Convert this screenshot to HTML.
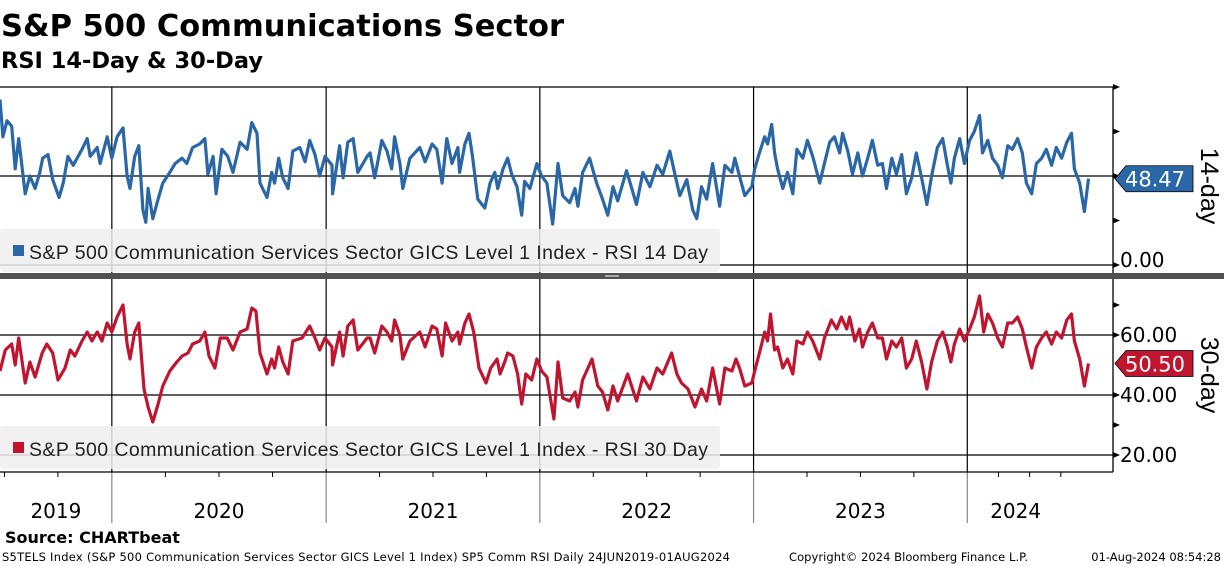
<!DOCTYPE html>
<html><head><meta charset="utf-8"><style>
html,body{margin:0;padding:0;background:#fff;width:1224px;height:566px;overflow:hidden}
svg{display:block;font-family:"Liberation Sans",sans-serif}
</style></head><body>
<svg id="chart" width="1224" height="566" viewBox="0 0 1224 566" xmlns="http://www.w3.org/2000/svg">
<text x="1" y="36" font-size="30.5" font-weight="bold" font-family="DejaVu Sans, sans-serif">S&amp;P 500 Communications Sector</text>
<text x="1" y="68" font-size="22.5" font-weight="bold" font-family="DejaVu Sans, sans-serif">RSI 14-Day &amp; 30-Day</text>
<g id="grid"></g>
<g id="series"></g>
<g id="overlay"></g>
<text x="5" y="543" font-size="16" font-weight="bold" font-family="DejaVu Sans, sans-serif">Source: CHARTbeat</text>
<text x="2" y="561" font-size="11.5" font-family="DejaVu Sans, sans-serif" textLength="728">S5TELS Index (S&amp;P 500 Communication Services Sector GICS Level 1 Index) SP5 Comm RSI  Daily 24JUN2019-01AUG2024</text>
<text x="789" y="561" font-size="11.5" font-family="DejaVu Sans, sans-serif" textLength="239">Copyright© 2024 Bloomberg Finance L.P.</text>
<text x="1221" y="561" font-size="11.5" text-anchor="end" font-family="DejaVu Sans, sans-serif">01-Aug-2024 08:54:28</text>
</svg>
<script>
// days since 2019-06-24
const rsi14Days=[0,5,12,20,26,32,43,51,60,68,73,82,90,101,108,116,125,140,149,154,166,171,183,191,200,210,217,222,230,237,244,249,253,261,270,278,290,299,311,319,329,341,350,355,364,369,379,389,398,410,422,430,439,444,456,464,469,476,483,492,500,512,521,529,538,546,555,567,568,580,586,594,603,611,627,
632,640,652,661,669,674,683,688,700,717,726,738,746,755,763,772,782,785,794,801,807,816,828,837,845,850,859,867,874,883,891,896,905,917,925,934,944,953,961,973,982,987,995,1007,1019,1029,1038,1047,1055,1070,1087,1098,1110,1122,1132,1144,1152,1161,1173,1183,1190,1198,1207,1217,1229,1238,1250,1255,
1263,1272,1284,1289,1297,1306,1311,1318,1323,1328,1337,1345,1354,1361,1371,1379,1388,1400,1408,1417,1425,1434,1439,1448,1456,1465,1473,1482,1490,1499,1507,1514,1523,1531,1540,1548,1557,1565,1574,1583,1591,1601,1610,1618,1624,1630,1639,1647,1656,1664,1673,1678,1687,1695,1704,1712,1721,1729,1738,1746,1753,1762,1770,1779,1787,1796,1804,1813,1822,1830,1835,1844,1852,1859];
const rsi14Values=[93,72,81,78,54,71,40,50,43,52,60,62,48,38,46,61,56,65,71,61,66,57,72,60,72,77,50,43,61,67,31,24,43,26,37,46,52,57,60,57,66,68,71,51,61,40,65,61,52,69,65,80,74,46,38,52,46,60,49,43,64,66,58,70,62,50,61,56,40,67,49,69,71,52,61,
63,49,70,64,54,72,57,43,60,66,58,68,65,46,71,57,66,52,68,74,61,37,32,46,52,43,54,60,51,44,28,47,43,57,50,46,23,57,39,35,43,33,52,60,46,37,28,44,36,53,34,52,44,56,51,64,52,39,48,31,26,44,37,57,33,56,52,60,
50,39,44,54,63,72,68,79,63,54,43,52,40,65,60,70,61,46,57,69,72,63,74,64,51,63,50,60,70,56,57,43,60,51,62,40,49,63,49,34,50,66,71,56,46,60,71,57,70,75,84,63,70,60,56,49,67,65,71,63,46,40,57,60,65,56,66,60,69,74,54,46,30,48.47];
const rsi30Days=[0,9,20,26,32,43,51,60,72,80,90,99,111,120,128,140,149,157,166,174,183,191,200,210,217,222,230,237,246,253,261,270,278,290,302,311,321,329,341,350,357,367,376,388,398,410,422,430,437,444,456,464,469,476,483,492,500,516,529,538,546,555,567,568,580,586,594,603,611,627,
632,640,652,661,669,674,683,688,700,717,726,738,746,755,761,772,782,785,794,801,809,818,830,838,849,854,862,867,876,884,891,898,908,917,925,934,946,953,961,973,982,987,995,1011,1021,1029,1038,1047,1055,1072,1087,1098,1110,1122,1132,1147,1156,1164,1175,1187,1198,1207,1217,1229,1238,1250,1257,
1263,1272,1284,1289,1297,1306,1311,1316,1323,1328,1337,1345,1354,1361,1371,1379,1388,1400,1408,1420,1429,1437,1446,1451,1460,1468,1473,1482,1490,1499,1507,1514,1523,1531,1540,1548,1557,1565,1574,1583,1591,1601,1610,1618,1624,1630,1639,1647,1656,1664,1673,1680,1687,1695,1704,1712,1721,1729,1738,1746,1753,1762,1770,1779,1787,1796,1804,1813,1822,1830,1835,1844,1852,1859];
const rsi30Values=[48,55,57,50,59,44,51,46,54,57,54,45,49,55,53,58,61,58,61,58,64,61,66,70,57,52,61,64,42,36,31,37,43,48,51,53,54,57,58,61,53,49,59,59,55,61,62,69,68,54,47,52,49,56,51,47,58,59,63,59,55,59,56,50,61,53,63,65,55,59,
59,54,63,61,58,65,60,52,58,61,56,63,62,53,64,58,61,57,64,67,61,49,44,49,52,47,51,54,53,47,37,47,45,52,48,46,32,51,39,38,41,36,45,52,43,41,35,43,38,47,38,46,42,49,47,54,47,44,42,36,42,38,49,37,49,48,52,
49,43,44,48,54,61,58,67,55,56,49,52,47,58,57,61,58,52,59,65,62,66,62,66,58,62,56,61,64,59,59,52,58,56,59,49,52,58,51,42,51,58,61,56,51,57,62,58,62,66,73,61,67,64,59,56,64,64,66,62,56,49,56,59,61,57,61,59,65,67,58,52,43,50.5];
const yearLabels=["2019","2020","2021","2022","2023","2024"];
const yearStartDays=[0,191,557,922,1287,1652,1865];
const topTicks=[100,75,50,25,0];
const bottomTicks=[70,60,40,30,20];
const topLabels=["0.00"];
const bottomLabels=["60.00","40.00","20.00"];

const NS="http://www.w3.org/2000/svg";
const X0=0,X1=1092,DAYMAX=1865,AX=1113;
const xS=d=>X0+d/DAYMAX*(X1-X0);
const yTop=v=>265-v*1.78;
const yBot=v=>335-(v-60)*3;
function mk(tag,attrs,parent){const e=document.createElementNS(NS,tag);for(const k in attrs)e.setAttribute(k,attrs[k]);parent.appendChild(e);return e;}
const grid=document.getElementById('grid'),ser=document.getElementById('series'),ov=document.getElementById('overlay');

[[yTop(100)],[yTop(50)],[yTop(0)],[yBot(60)],[yBot(40)],[yBot(20)]].forEach(a=>{
 const l=mk('line',{x1:0,x2:AX,y1:a[0],y2:a[0],stroke:'#000','stroke-width':1.3},grid);
 
 
});
yearStartDays.slice(1,6).forEach(d=>{
 const x=xS(d);
 const l=mk('line',{x1:x,x2:x,y1:87,y2:472,stroke:'#000','stroke-width':1.2},grid);
 
 
 const l2=mk('line',{x1:x,x2:x,y1:472,y2:523,stroke:'#888','stroke-width':1.2},grid);
 
 
});
const xa=mk('line',{x1:0,x2:AX,y1:472,y2:472,stroke:'#000','stroke-width':1.3},grid);


for(let i=0;i<6;i++){
 const a=yearStartDays[i],b=yearStartDays[i+1];
 const yrStart=i===0?-175:a;
 for(let q=1;q<4;q++){const d=yrStart+q*(i===0?91.3:(b-a)/4);if(d>0&&d<b){const x=xS(d);
  const t=mk('line',{x1:x,x2:x,y1:472,y2:477,stroke:'#000','stroke-width':1},grid);
  
  }}
 const lbl=mk('text',{x:(xS(a)+xS(Math.min(b,DAYMAX)))/2,y:518,'font-size':20,'text-anchor':'middle','font-family':'DejaVu Sans, sans-serif'},grid);
 if(i===5){lbl.setAttribute('x',xS(a)+(xS(1865)-xS(a))/2-14);}
 lbl.textContent=yearLabels[i];
 
 
}
const ra=mk('line',{x1:AX,x2:AX,y1:87,y2:472,stroke:'#000','stroke-width':1.3},grid);


topTicks.forEach(v=>{const y=yTop(v);
 const t=mk('path',{d:`M${AX} ${y-3}L${AX+7} ${y}L${AX} ${y+3}Z`,fill:'#000'},grid);
 
 });
bottomTicks.forEach(v=>{const y=yBot(v);
 const t=mk('path',{d:`M${AX} ${y-3}L${AX+7} ${y}L${AX} ${y+3}Z`,fill:'#000'},grid);
 
 });
topLabels.forEach(s=>{const t=mk('text',{x:1120,y:yTop(0)+2,'font-size':20,'font-family':'DejaVu Sans, sans-serif'},grid);t.textContent=s;
 
 });
bottomLabels.forEach(s=>{const t=mk('text',{x:1120,y:yBot(parseFloat(s))+7,'font-size':20,'font-family':'DejaVu Sans, sans-serif'},grid);t.textContent=s;
 
 });

function line(days,vals,yf,color,name){
 const d=days.map((dd,i)=>(i?'L':'M')+xS(dd).toFixed(1)+' '+yf(vals[i]).toFixed(1)).join('');
 const p=mk('path',{d:d,fill:'none',stroke:color,'stroke-width':3.2,'stroke-linejoin':'round'},ser);
 
 
}
line(rsi14Days,rsi14Values,yTop,'#2a67a6','rsi-14-line');
line(rsi30Days,rsi30Values,yBot,'#c0152f','rsi-30-line');

function legend(y,color,txt,name){
 const g=mk('g',{},ov);
 
 
 mk('rect',{x:0,y:y,width:720,height:43,rx:3,fill:'#eeeeee','fill-opacity':0.85},g);
 mk('rect',{x:13,y:y+16,width:11,height:11,fill:color},g);
 const t=mk('text',{x:29,y:y+30,'font-size':19.5,fill:'#222',textLength:679},g);t.textContent=txt;
}
legend(229,'#2a67a6','S&P 500 Communication Services Sector GICS Level 1 Index - RSI 14 Day','legend-rsi-14');
legend(426,'#c0152f','S&P 500 Communication Services Sector GICS Level 1 Index - RSI 30 Day','legend-rsi-30');

const dv=mk('rect',{x:0,y:273,width:1224,height:6,fill:'#505050'},ov);


mk('rect',{x:605,y:275,width:14,height:2,fill:'#aaa'},ov);

function tag(v,yf,color,name){
 const y=yf(v);
 const p=mk('path',{d:`M1115 ${y}L1126 ${y-13}H1193V${y+13}H1126Z`,fill:color,stroke:'#000','stroke-width':0.8},ov);
 
 
 const t=mk('text',{x:1125,y:y+8,'font-size':21,fill:'#fff','font-family':'DejaVu Sans, sans-serif',textLength:60},ov);t.textContent=v.toFixed(2);
 
 
}
tag(rsi14Values[rsi14Values.length-1],yTop,'#2a67a6','last-value-14');
tag(rsi30Values[rsi30Values.length-1],yBot,'#c0152f','last-value-30');

function vt(txt,cy,name){
 const t=mk('text',{x:0,y:0,'font-size':25,'text-anchor':'middle',transform:`translate(1201 ${cy}) rotate(90)`},ov);
 t.textContent=txt;
 
 
}
vt('14-day',186,'panel-title-14');
vt('30-day',375,'panel-title-30');
</script>
</body></html>
